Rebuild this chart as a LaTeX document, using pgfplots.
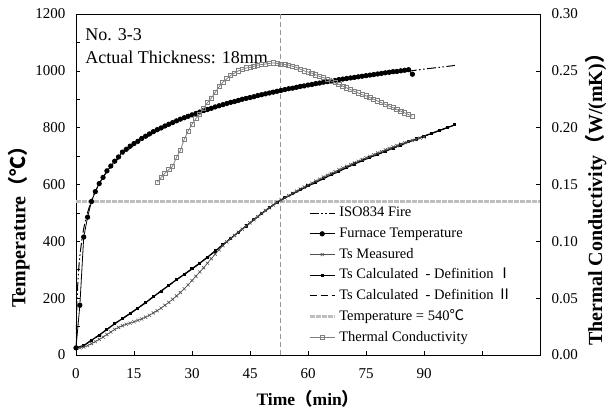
\documentclass[border=0pt]{standalone}
\usepackage{fontspec}
\setmainfont{Liberation Serif}
\newfontfamily\cjk{Noto Sans CJK SC}
\usepackage{pgfplots}
\pgfplotsset{compat=1.18}
\definecolor{tcgray}{RGB}{128,128,128}
\definecolor{lgray}{RGB}{190,190,190}
\definecolor{vgray}{RGB}{150,150,150}
\definecolor{mgray}{RGB}{80,80,80}
\pgfplotsset{
 isostyle/.style={black, line width=1pt, dash pattern=on 9pt off 2.5pt on 1.5pt off 2.5pt on 1.5pt off 2.5pt, no marks},
 furnstyle/.style={black, line width=0.8pt, mark=*, mark size=2.2pt},
 measstyle/.style={mgray, line width=0.6pt, mark=x, mark size=2.2pt},
 defIstyle/.style={black, line width=1.3pt, mark=square*, mark size=0.9pt},
 defIIstyle/.style={black, line width=1pt, dash pattern=on 7pt off 4pt, no marks},
 hstyle/.style={lgray, line width=3pt, dash pattern=on 5pt off 1pt, no marks},
 tcstyle/.style={tcgray, line width=0.8pt, mark=square, mark size=2.1pt},
}
\begin{document}
\begin{tikzpicture}
\path[use as bounding box] (-76pt,-57pt) rectangle (537pt,355pt);
\begin{axis}[
 scale only axis, width=464pt, height=341pt, at={(0pt,0pt)}, anchor=south west,
 xmin=0, xmax=120, ymin=0, ymax=1200,
 xtick={0,15,...,120}, xticklabels={0,15,30,45,60,75,90},
 ytick={0,200,...,1200}, minor ytick={100,300,...,1100},
 xtick pos=bottom, ytick pos=left, tick align=inside,
 major tick length=4pt, minor tick length=4pt,
 tick style={black, line width=0.6pt},
 axis line style={line width=0.8pt},
 /pgf/number format/assume math mode=true,
 /pgf/number format/1000 sep={},
 ticklabel style={font=\fontsize{15}{18}\selectfont},
 yticklabel style={xshift=-7pt},
 xticklabel style={yshift=-10pt},
 xlabel={Time{\cjk （}min{\cjk ）}},
 xlabel style={at={(axis description cs:0.5,-0.128)}, anchor=center, font=\bfseries\fontsize{17.5}{20}\selectfont},
 ylabel={Temperature{\cjk （℃）}},
 ylabel style={at={(axis description cs:-0.123,0.39)}, anchor=center, font=\bfseries\fontsize{20}{24}\selectfont},
]
\addplot[hstyle] coordinates {(0,540) (120,540)};
\addplot[vgray, line width=1pt, dash pattern=on 5pt off 3pt] coordinates {(52.9,0) (52.9,1200)};
\addplot[isostyle] coordinates {
(0,20) (0.25,185) (0.5,261) (0.75,312) (1,349) (1.5,404) (2,445) (2.5,476) (3,502) (4,544) (5,576) (6,603) (7,626) (8,645) (10,678) (12,705) (15,739) (20,781) (25,815) (30,842) (35,865) (40,885) (45,902) (50,918) (55,932) (60,945) (65,957) (70,968) (75,979) (80,988) (85,997) (90,1006) (95,1014) (98,1019)};
\addplot[defIIstyle] coordinates {
(0,25) (2,33) (4,52) (6,70) (8,90) (10,110) (12,128) (14,146) (16,165) (18,184) (20,205) (22,225) (24,245) (26,265) (28,284) (30,303) (32,323) (34,344) (36,366) (38,388) (40,410) (42,432) (44,454) (46,476) (48,498) (50,518) (52,537) (54,553) (56,567) (58,581) (60,595) (62,608) (64,621) (66,634) (68,647) (70,660) (72,672) (74,684) (76,696) (78,706) (80,717) (82,728) (84,739) (86,750) (88,760) (90,770) (92,780) (94,790) (96,800) (98,810)};
\addplot[defIstyle] coordinates {
(0,25) (2,33) (4,52) (6,70) (8,90) (10,110) (12,128) (14,146) (16,165) (18,184) (20,205) (22,225) (24,245) (26,265) (28,284) (30,303) (32,323) (34,344) (36,366) (38,388) (40,410) (42,432) (44,454) (46,476) (48,498) (50,518) (52,537) (54,553) (56,567) (58,581) (60,595) (62,608) (64,621) (66,634) (68,647) (70,660) (72,672) (74,684) (76,696) (78,706) (80,717) (82,728) (84,739) (86,750) (88,760) (90,770) (92,780) (94,790) (96,800) (98,810)};
\addplot[measstyle] coordinates {
(0,25) (1,25) (2,28) (3,33) (4,40) (5,47) (6,55) (7,63) (8,72) (9,81) (10,90) (11,97) (12,103) (13,108) (14,112) (15,117) (16,122) (17,127) (18,133) (19,140) (20,148) (21,156) (22,165) (23,175) (24,185) (25,196) (26,208) (27,220) (28,233) (29,247) (30,262) (31,277) (32,292) (33,307) (34,323) (35,339) (36,355) (37,370) (38,385) (39,398) (40,410) (41,421) (42,432) (43,443) (44,454) (45,465) (46,476) (47,487) (48,498) (49,508) (50,518) (51,528) (52,537) (53,545) (54,553) (55,561) (56,569) (57,577) (58,584) (59,591) (60,598) (61,605) (62,612) (63,619) (64,626) (65,633) (66,639) (67,645) (68,652) (69,658) (70,664) (71,670) (72,676) (73,682) (74,688) (75,694) (76,699) (77,705) (78,711) (79,716) (80,722) (81,727) (82,732) (83,737) (84,742) (85,747) (86,751) (87,755) (88,759) (89,763) (90,767)};
\addplot[furnstyle] coordinates {
(0,25) (1,175) (2,415) (3,485) (4,540) (5,575) (6,603) (7,625) (8,648) (9,665) (10,682) (11,697) (12,714) (13,724) (14,735) (15,744) (16,752) (17,762) (18,770) (19,778) (20,786) (21,793) (22,799) (23,806) (24,812) (25,818) (26,824) (27,830) (28,835) (29,840) (30,845) (31,850) (32,855) (33,860) (34,864) (35,868) (36,873) (37,877) (38,881) (39,885) (40,889) (41,892) (42,896) (43,900) (44,903) (45,906) (46,909) (47,913) (48,916) (49,919) (50,922) (51,925) (52,928) (53,931) (54,934) (55,937) (56,939) (57,942) (58,945) (59,947) (60,950) (61,952) (62,955) (63,957) (64,960) (65,962) (66,964) (67,966) (68,969) (69,971) (70,973) (71,975) (72,977) (73,979) (74,981) (75,983) (76,985) (77,987) (78,989) (79,991) (80,993) (81,995) (82,997) (83,998) (84,1000) (85,1002) (86,1004) (87,988)};
\node[anchor=north west, align=left, inner sep=0pt, font=\fontsize{18}{22.5}\selectfont] at (rel axis cs:0.02,0.957) {No. 3-3\\Actual Thickness: 18mm};
\end{axis}
\begin{axis}[
 scale only axis, width=464pt, height=341pt, at={(0pt,0pt)}, anchor=south west,
 xmin=0, xmax=120, ymin=0, ymax=0.30,
 axis x line=none, axis y line*=right,
 ytick={0,0.05,0.10,0.15,0.20,0.25,0.30},
 tick align=inside, major tick length=4pt,
 tick style={black, line width=0.6pt},
 axis line style={line width=0.8pt},
 /pgf/number format/assume math mode=true,
 /pgf/number format/fixed, /pgf/number format/fixed zerofill, /pgf/number format/precision=2,
 ticklabel style={font=\fontsize{15}{18}\selectfont},
 yticklabel style={xshift=8pt},
 ylabel={Thermal Conductivity{\cjk （}W/(mK){\cjk ）}},
 ylabel style={at={(axis description cs:1.12,0.47)}, anchor=center, font=\bfseries\fontsize{20}{24}\selectfont},
 legend image code/.code={\draw[mark repeat=2,mark phase=2,#1] plot coordinates {(0pt,0pt) (12.5pt,0pt) (25pt,0pt)};},
 legend style={at={(axis description cs:0.50,0.447)}, anchor=north west, draw=none, fill=white, inner sep=0pt, font=\fontsize{14.5}{17}\selectfont, row sep=0pt, nodes={inner sep=3.1pt, text height=11pt, text depth=3.5pt}},
 legend cell align=left,
]
\addlegendimage{isostyle}
\addlegendentry{ISO834 Fire}
\addlegendimage{furnstyle}
\addlegendentry{Furnace Temperature}
\addlegendimage{measstyle}
\addlegendentry{Ts Measured}
\addlegendimage{defIstyle}
\addlegendentry{Ts Calculated\ \ - Definition {\cjk Ⅰ}}
\addlegendimage{defIIstyle}
\addlegendentry{Ts Calculated\ \ - Definition {\cjk Ⅱ}}
\addlegendimage{hstyle}
\addlegendentry{Temperature = 540{\cjk ℃}}
\addplot[tcstyle] coordinates {
(21,0.152) (22,0.156) (23,0.160) (24,0.163) (25,0.166) (26,0.174) (27,0.180) (28,0.190) (29,0.197) (30,0.203) (31,0.208) (32,0.212) (33,0.217) (34,0.222) (35,0.226) (36,0.231) (37,0.236) (38,0.240) (39,0.243) (40,0.246) (41,0.248) (42,0.250) (43,0.251) (44,0.2525) (45,0.253) (46,0.254) (47,0.255) (48,0.2555) (49,0.256) (50,0.2565) (51,0.257) (52,0.2565) (53,0.256) (54,0.2555) (55,0.255) (56,0.254) (57,0.253) (58,0.2515) (59,0.250) (60,0.249) (61,0.248) (62,0.2465) (63,0.245) (64,0.244) (65,0.2425) (66,0.241) (67,0.2395) (68,0.238) (69,0.2365) (70,0.235) (71,0.2335) (72,0.232) (73,0.2305) (74,0.229) (75,0.228) (76,0.2265) (77,0.225) (78,0.2235) (79,0.222) (80,0.2205) (81,0.219) (82,0.2175) (83,0.216) (84,0.2145) (85,0.213) (86,0.2115) (87,0.210)};
\addlegendentry{Thermal Conductivity}
\end{axis}
\end{tikzpicture}
\end{document}
